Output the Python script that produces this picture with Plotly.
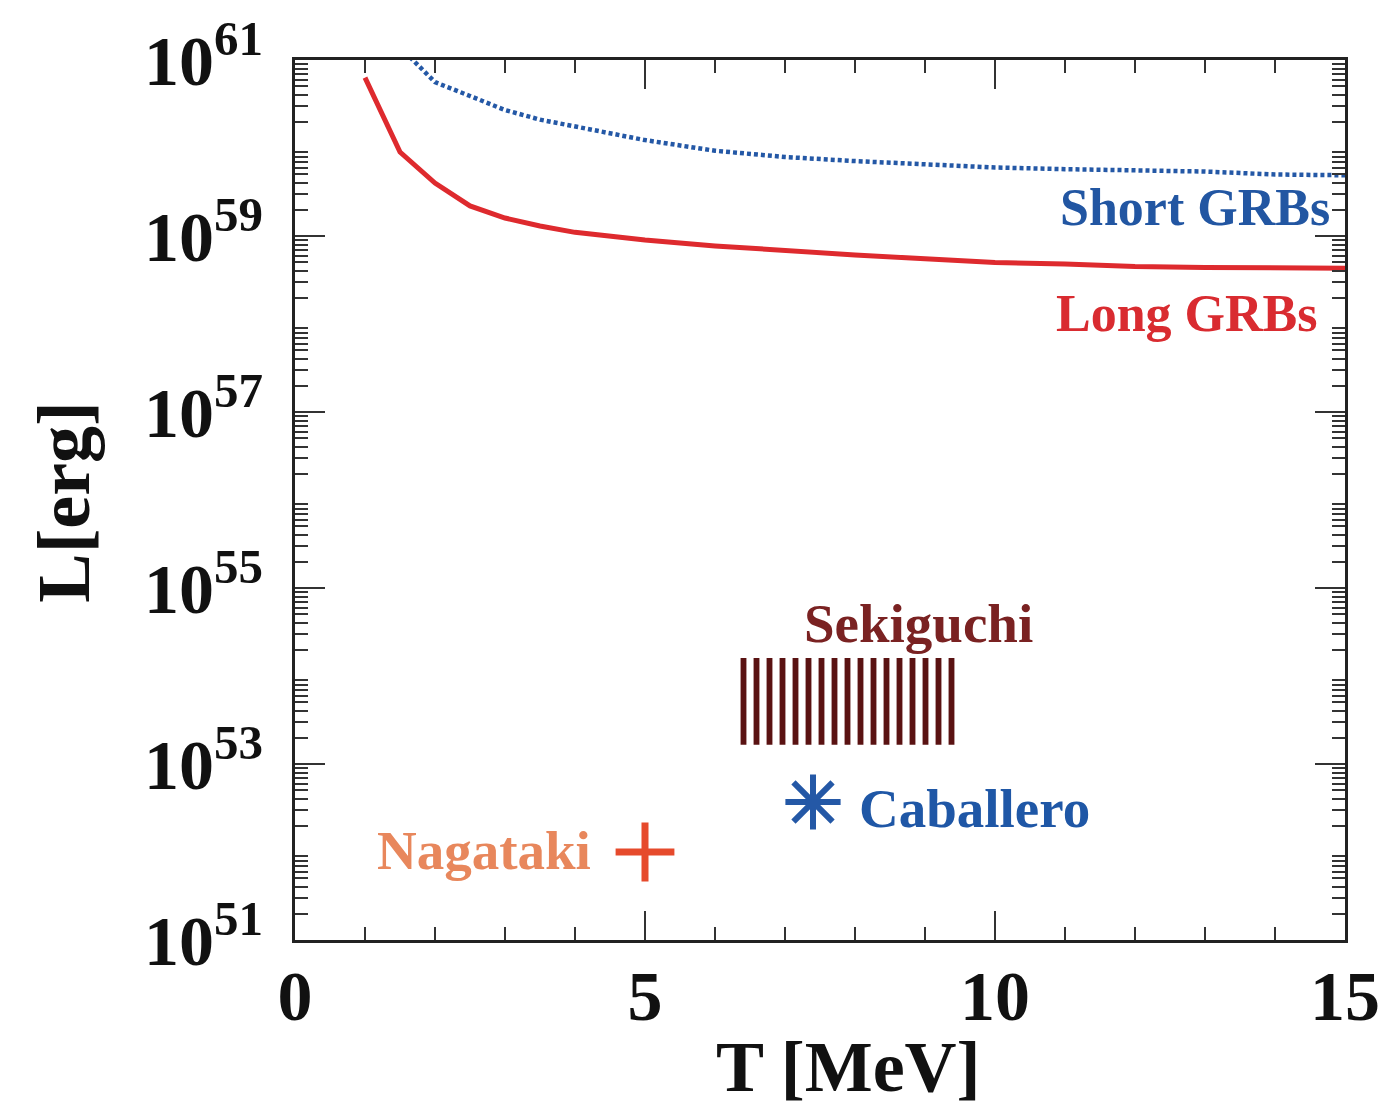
import plotly.graph_objects as go

# ---- data ----
T_long = [1, 1.5, 2, 2.5, 3, 3.5, 4, 5, 6, 7, 8, 9, 10, 11, 12, 13, 14, 15]
L_long = [6.3e60, 9.0e59, 4.0e59, 2.2e59, 1.6e59, 1.3e59, 1.1e59, 9.0e58, 7.7e58,
          6.8e58, 6.1e58, 5.5e58, 5.0e58, 4.8e58, 4.5e58, 4.4e58, 4.3e58, 4.3e58]

T_short = [1.5, 2, 2.5, 3, 3.5, 4, 5, 6, 7, 8, 9, 10, 11, 12, 13, 14, 15]
L_short = [1.4e61, 5.6e60, 3.9e60, 2.7e60, 2.1e60, 1.74e60, 1.23e60, 9.3e59, 7.9e59,
           7.1e59, 6.6e59, 6.0e59, 5.75e59, 5.5e59, 5.4e59, 5.0e59, 4.9e59]

sekiguchi_T = [6.3, 9.45]
sekiguchi_L = [1.65e53, 1.6e54]

caballero_T = [7.4]
caballero_L = [3.7e52]

nagataki_T = [5.0]
nagataki_L = [1.0e52]

labeled_exponents = [51, 53, 55, 57, 59, 61]
unlabeled_exponents = [52, 54, 56, 58, 60]
x_major = [0, 5, 10, 15]

FONT = "Liberation Serif"
RED = "#DE2A2E"
BLUE = "#2458A6"
MAROON = "#5A1212"

fig = go.Figure()

# Sekiguchi hatched box
fig.add_trace(go.Scatter(
    x=[sekiguchi_T[0], sekiguchi_T[1], sekiguchi_T[1], sekiguchi_T[0], sekiguchi_T[0]],
    y=[sekiguchi_L[0], sekiguchi_L[0], sekiguchi_L[1], sekiguchi_L[1], sekiguchi_L[0]],
    mode="lines", fill="toself", line=dict(width=0, color="rgba(0,0,0,0)"),
    fillcolor="white",
    fillpattern=dict(shape="|", size=13, solidity=0.45, fgcolor=MAROON, fgopacity=1,
                     bgcolor="white"),
    showlegend=False, hoverinfo="skip"))

fig.add_trace(go.Scatter(x=T_long, y=L_long, mode="lines",
                         line=dict(color=RED, width=5), showlegend=False))
fig.add_trace(go.Scatter(x=T_short, y=L_short, mode="lines",
                         line=dict(color=BLUE, width=4.5, dash="4px,3px"), showlegend=False))

fig.add_trace(go.Scatter(x=caballero_T, y=caballero_L, mode="markers",
                         marker=dict(symbol="asterisk", size=46, color=BLUE,
                                     line=dict(color=BLUE, width=6)), showlegend=False))
fig.add_trace(go.Scatter(x=nagataki_T, y=nagataki_L, mode="markers",
                         marker=dict(symbol="cross-thin", size=42, color="#E64A2C",
                                     line=dict(color="#E64A2C", width=7)), showlegend=False))

def ann(text, x, y, color, size, xanchor="center"):
    fig.add_annotation(text=text, x=x, y=y, xref="x", yref="y", showarrow=False,
                       xanchor=xanchor, yanchor="middle",
                       font=dict(family=FONT, size=size, color=color, weight="bold"))

ann("Short GRBs", 14.81, 59.32, "#2256A2", 52, xanchor="right")
ann("Long GRBs", 14.64, 58.125, "#D92B30", 52, xanchor="right")
ann("Sekiguchi", 8.91, 54.6, "#7A2222", 55)
ann("Caballero", 9.7, 52.5, "#1F57A6", 55)
ann("Nagataki", 2.7, 52.02, "#E8875C", 55)

# axis titles
fig.add_annotation(text="T [MeV]", xref="paper", yref="paper", x=0.527, y=-0.144,
                   showarrow=False, xanchor="center", yanchor="middle",
                   font=dict(family=FONT, size=72, color="#111", weight="bold"))
fig.add_annotation(text="L[erg]", xref="paper", yref="paper", x=-0.22, y=0.497,
                   showarrow=False, xanchor="center", yanchor="middle", textangle=-90,
                   font=dict(family=FONT, size=74, color="#111", weight="bold"))

all_exp = sorted(labeled_exponents + unlabeled_exponents)
yminor = [m * 10.0 ** e for e in all_exp[:-1] for m in range(2, 10)]

fig.update_layout(
    width=1386, height=1113,
    margin=dict(l=287, r=49, t=52, b=181, autoexpand=False),
    paper_bgcolor="white", plot_bgcolor="white",
    font=dict(family=FONT, color="#111"),
    xaxis=dict(range=[0, 15], tickvals=x_major, ticks="inside", ticklen=29, tickwidth=2,
               tickcolor="#333", showline=True, linewidth=3, linecolor="#222",
               mirror="ticks", showgrid=False, zeroline=False, ticklabelstandoff=-7,
               automargin=False,
               tickfont=dict(family=FONT, size=70, color="#111", weight="bold"),
               minor=dict(dtick=1, ticks="inside", ticklen=13, tickwidth=2, tickcolor="#333",
                          showgrid=False)),
    yaxis=dict(type="log", range=[51, 61],
               tickvals=[10.0 ** e for e in labeled_exponents],
               ticktext=[f"10<sup>{e}</sup>" for e in labeled_exponents],
               ticks="inside", ticklen=30, tickwidth=2, tickcolor="#333",
               showline=True, linewidth=3, linecolor="#222", mirror="ticks",
               showgrid=False, zeroline=False, ticklabelstandoff=15, automargin=False,
               tickfont=dict(family=FONT, size=70, color="#111", weight="bold"),
               minor=dict(tickvals=yminor, ticks="inside", ticklen=13, tickwidth=2,
                          tickcolor="#333", showgrid=False)),
    yaxis2=dict(type="log", range=[51, 61], overlaying="y", side="left",
                tickvals=[10.0 ** e for e in unlabeled_exponents], showticklabels=False,
                ticks="inside", ticklen=30, tickwidth=2, tickcolor="#333",
                showline=True, linewidth=3, linecolor="#222", mirror="ticks",
                showgrid=False, zeroline=False, automargin=False),
)

fig.write_html("out.html")
